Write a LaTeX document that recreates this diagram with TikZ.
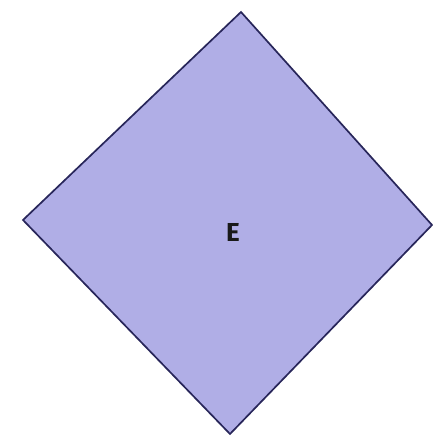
\documentclass[tikz,border=0pt]{standalone}
\usepackage{fontspec}
\setsansfont{Fira Sans}
\usetikzlibrary{positioning}
\definecolor{lavender}{RGB}{176,174,230}
\definecolor{navyline}{RGB}{40,38,90}
\tikzset{
  blockface/.style={fill=lavender,draw=navyline,line width=1.7pt,line join=miter},
  blocklabel/.style={font=\sffamily\bfseries\fontsize{26}{26}\selectfont,text=black!90}
}
\begin{document}
\begin{tikzpicture}[x=1pt,y=1pt]
\useasboundingbox (0,0) rectangle (433,436);
% corners of the block
\coordinate (top) at (241,424);
\coordinate (left) at (23,216);
\coordinate (right) at (432,211);
\coordinate (bottom) at (230,2);
\draw[blockface] (top) -- (right) -- (bottom) -- (left) -- cycle;
% label
\node[blocklabel] (label) at (233,204) {E};
\end{tikzpicture}
\end{document}
